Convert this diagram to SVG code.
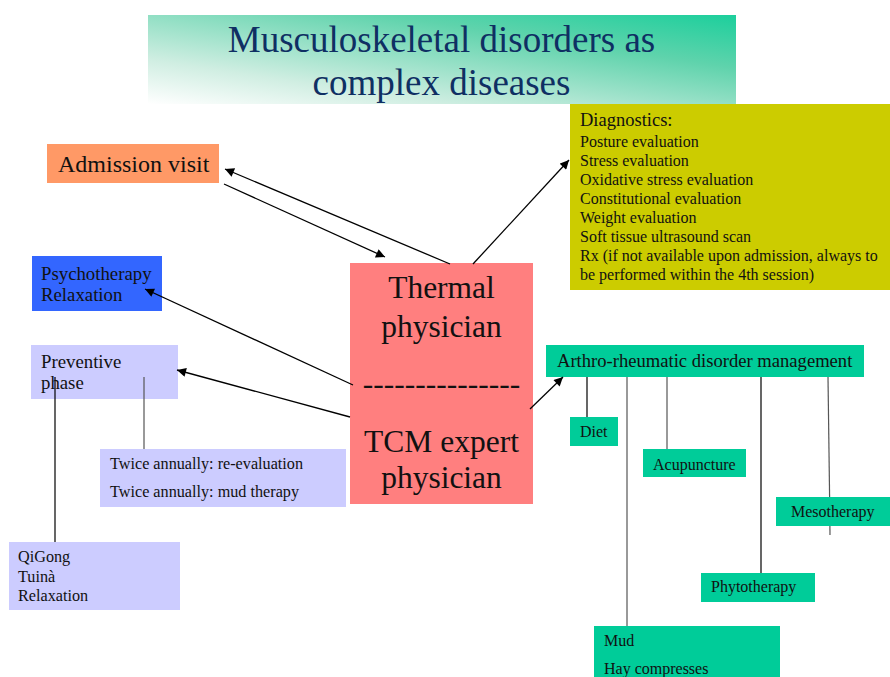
<svg xmlns="http://www.w3.org/2000/svg" width="890" height="677" viewBox="0 0 890 677">
<defs>
<linearGradient id="bannerGrad" x1="0" y1="1" x2="1" y2="0">
<stop offset="0" stop-color="#ffffff"/>
<stop offset="0.25" stop-color="#d0eee2"/>
<stop offset="0.7" stop-color="#5fd3ac"/>
<stop offset="1" stop-color="#1ccf9c"/>
</linearGradient>
<marker id="arrow" viewBox="0 0 10 10" refX="10" refY="5" markerWidth="10" markerHeight="9" markerUnits="userSpaceOnUse" orient="auto">
<path d="M0,0 L10,5 L0,10 z" fill="#000"/>
</marker>
</defs>
<style>
text { font-family: "Liberation Serif", "Times New Roman", serif; fill: #111; }
.title { font-size: 37px; fill: #0f2f63; text-anchor: middle; }
.big { font-size: 31.5px; text-anchor: middle; }
.t162 { font-size: 16.2px; }
.t160 { font-size: 16px; }
.t16 { font-size: 16px; }
.t188 { font-size: 18.8px; }
.conn { stroke: #000; stroke-width: 1.3; fill: none; }
.stem { stroke: #000; stroke-width: 1.2; fill: none; }
.stemg { stroke: #555; stroke-width: 1.2; fill: none; }
</style>
<rect width="890" height="677" fill="#ffffff"/>

<g id="title">
<rect x="148" y="15" width="588" height="89" fill="url(#bannerGrad)"/>
<text class="title" x="441.5" y="52">Musculoskeletal disorders as</text>
<text class="title" x="441.5" y="95">complex diseases</text>
</g>

<g id="diagnostics">
<rect x="570" y="104" width="320" height="186" fill="#cccc00"/>
<text x="580" y="126" style="font-size:18.5px">Diagnostics:</text>
<text class="t160" x="580" y="147">Posture evaluation</text>
<text class="t160" x="580" y="166">Stress evaluation</text>
<text class="t160" x="580" y="185">Oxidative stress evaluation</text>
<text class="t160" x="580" y="204">Constitutional evaluation</text>
<text class="t160" x="580" y="223">Weight evaluation</text>
<text class="t160" x="580" y="242">Soft tissue ultrasound scan</text>
<text class="t160" x="580" y="261">Rx (if not available upon admission, always to</text>
<text class="t160" x="580" y="280">be performed within the 4th session)</text>
</g>

<g id="admission">
<rect x="47" y="144" width="172" height="39" fill="#ff9966"/>
<text x="58" y="172" style="font-size:24px">Admission visit</text>
</g>

<g id="psychotherapy">
<rect x="32" y="256" width="130" height="55" fill="#3366ff"/>
<text class="t188" x="41" y="280">Psychotherapy</text>
<text class="t188" x="41" y="301">Relaxation</text>
</g>

<g id="preventive">
<rect x="31" y="345" width="147" height="54" fill="#ccccff"/>
<text class="t188" x="41" y="368">Preventive</text>
<text class="t188" x="41" y="389">phase</text>
</g>

<g id="twice">
<rect x="100" y="449" width="246" height="58" fill="#ccccff"/>
<text class="t162" x="110" y="469">Twice annually: re-evaluation</text>
<text class="t162" x="110" y="497">Twice annually: mud therapy</text>
</g>

<g id="qigong">
<rect x="9" y="542" width="171" height="68" fill="#ccccff"/>
<text class="t162" x="18" y="562">QiGong</text>
<text class="t162" x="18" y="582">Tuinà</text>
<text class="t162" x="18" y="601">Relaxation</text>
</g>

<g id="physician">
<rect x="350" y="263" width="183" height="241" fill="#ff7f7f"/>
<text class="big" x="441.5" y="298">Thermal</text>
<text class="big" x="441.5" y="337">physician</text>
<text class="big" x="441.5" y="394">---------------</text>
<text class="big" x="441.5" y="452">TCM expert</text>
<text class="big" x="441.5" y="488">physician</text>
</g>

<g id="arthro">
<rect x="546" y="345" width="318" height="32" fill="#00cc99"/>
<text x="557" y="367" style="font-size:18.6px">Arthro-rheumatic disorder management</text>
</g>

<g id="diet">
<rect x="570" y="417" width="48" height="29" fill="#00cc99"/>
<text class="t16" x="580" y="437">Diet</text>
</g>

<g id="acupuncture">
<rect x="643" y="449" width="103" height="28" fill="#00cc99"/>
<text class="t16" x="653" y="470">Acupuncture</text>
</g>

<g id="mesotherapy">
<rect x="776" y="497" width="114" height="29" fill="#00cc99"/>
<text class="t16" x="791" y="517">Mesotherapy</text>
</g>

<g id="phytotherapy">
<rect x="701" y="573" width="114" height="29" fill="#00cc99"/>
<text class="t16" x="711" y="592">Phytotherapy</text>
</g>

<g id="mud">
<rect x="594" y="626" width="186" height="51" fill="#00cc99"/>
<text class="t16" x="604" y="646">Mud</text>
<text class="t16" x="604" y="674">Hay compresses</text>
</g>

<g id="connectors">
<line class="conn" x1="450" y1="264" x2="225" y2="169" marker-end="url(#arrow)"/>
<line class="conn" x1="224" y1="184" x2="385" y2="257" marker-end="url(#arrow)"/>
<line class="conn" x1="473" y1="264" x2="569" y2="160" marker-end="url(#arrow)"/>
<line class="conn" x1="353" y1="385" x2="145" y2="289" marker-end="url(#arrow)"/>
<line class="conn" x1="350" y1="417" x2="177" y2="370" marker-end="url(#arrow)"/>
<line class="conn" x1="530" y1="409" x2="563" y2="377" marker-end="url(#arrow)"/>
<line class="stem" x1="55" y1="377" x2="55" y2="542"/>
<line class="stemg" x1="144" y1="377" x2="144" y2="449"/>
<line class="stem" x1="587" y1="377" x2="587" y2="417"/>
<line class="stemg" x1="627" y1="377" x2="627" y2="626"/>
<line class="stemg" x1="667" y1="377" x2="667" y2="449"/>
<line class="stem" x1="761" y1="377" x2="761" y2="573"/>
<line class="stemg" x1="828" y1="377" x2="829.6" y2="497"/>
<line class="stemg" x1="829.9" y1="526" x2="830" y2="535"/>
</g>
</svg>
